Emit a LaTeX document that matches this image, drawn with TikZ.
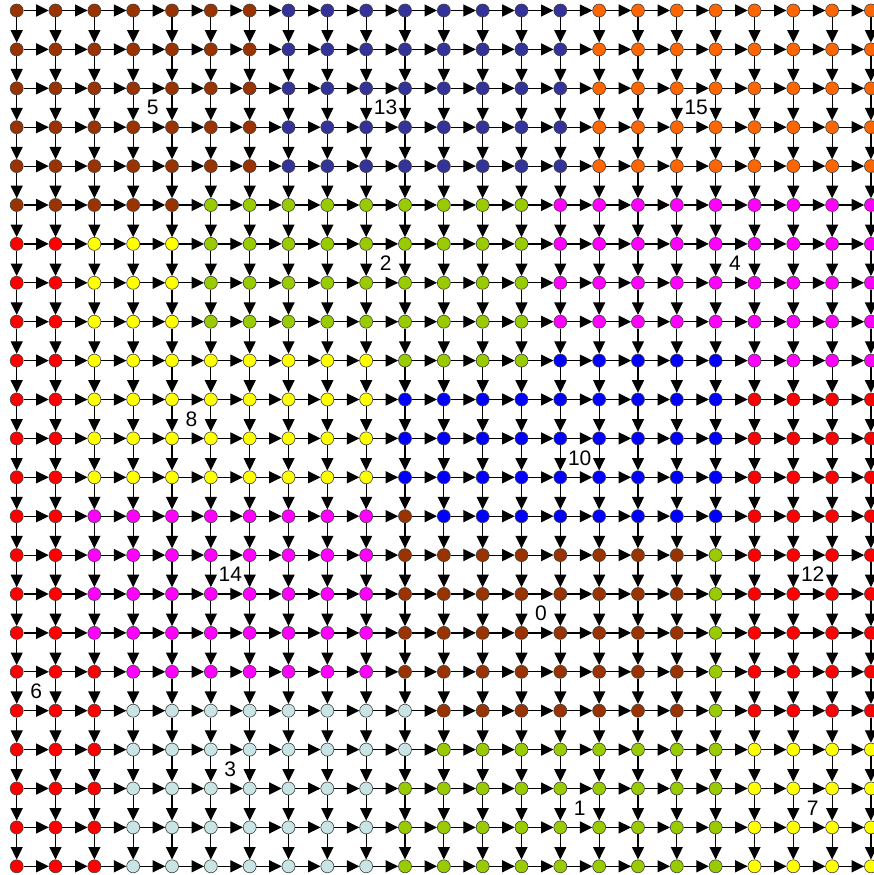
\documentclass[tikz,border=0pt]{standalone}
\usepackage{fontspec}
\setmainfont{Liberation Sans}
\usetikzlibrary{arrows.meta}
\definecolor{cB}{HTML}{993300}
\definecolor{cN}{HTML}{333399}
\definecolor{cO}{HTML}{FF6600}
\definecolor{cG}{HTML}{99CC00}
\definecolor{cM}{HTML}{FF00FF}
\definecolor{cR}{HTML}{FF0000}
\definecolor{cY}{HTML}{FFFF00}
\definecolor{cU}{HTML}{0000FF}
\definecolor{cC}{HTML}{C8E4E4}
\begin{document}
\begin{tikzpicture}[x=1pt,y=-1pt,
  dot/.style={circle,draw=black!75,line width=0.6pt,minimum size=13pt,inner sep=0pt},
  edge/.style={line width=1.2pt,-{Triangle[length=12.5pt,width=12pt]}},
  lbl/.style={font=\fontsize{21}{25}\selectfont,inner sep=0pt}]
\clip (0,0) rectangle (874,875);
\foreach \rowlist [count=\ri from 0] in {
{B,B,B,B,B,B,B,N,N,N,N,N,N,N,N,O,O,O,O,O,O,O,O},
{B,B,B,B,B,B,B,N,N,N,N,N,N,N,N,O,O,O,O,O,O,O,O},
{B,B,B,B,B,B,B,N,N,N,N,N,N,N,N,O,O,O,O,O,O,O,O},
{B,B,B,B,B,B,B,N,N,N,N,N,N,N,N,O,O,O,O,O,O,O,O},
{B,B,B,B,B,B,B,N,N,N,N,N,N,N,N,O,O,O,O,O,O,O,O},
{B,B,B,B,B,G,G,G,G,G,G,G,G,G,M,M,M,M,M,M,M,M,M},
{R,R,Y,Y,Y,G,G,G,G,G,G,G,G,G,M,M,M,M,M,M,M,M,M},
{R,R,Y,Y,Y,G,G,G,G,G,G,G,G,G,M,M,M,M,M,M,M,M,M},
{R,R,Y,Y,Y,G,G,G,G,G,G,G,G,G,M,M,M,M,M,M,M,M,M},
{R,R,Y,Y,Y,Y,Y,Y,Y,Y,G,G,G,G,U,U,U,U,U,M,M,M,M},
{R,R,Y,Y,Y,Y,Y,Y,Y,Y,U,U,U,U,U,U,U,U,U,R,R,R,R},
{R,R,Y,Y,Y,Y,Y,Y,Y,Y,U,U,U,U,U,U,U,U,U,R,R,R,R},
{R,R,Y,Y,Y,Y,Y,Y,Y,Y,U,U,U,U,U,U,U,U,U,R,R,R,R},
{R,R,M,M,M,M,M,M,M,M,B,U,U,U,U,U,U,U,U,R,R,R,R},
{R,R,M,M,M,M,M,M,M,M,B,B,B,B,B,B,B,B,G,R,R,R,R},
{R,R,M,M,M,M,M,M,M,M,B,B,B,B,B,B,B,B,G,R,R,R,R},
{R,R,M,M,M,M,M,M,M,M,B,B,B,B,B,B,B,B,G,R,R,R,R},
{R,R,R,M,M,M,M,M,M,M,B,B,B,B,B,B,B,B,G,R,R,R,R},
{R,R,R,C,C,C,C,C,C,C,C,B,B,B,B,B,B,B,G,R,R,R,R},
{R,R,R,C,C,C,C,C,C,C,C,G,G,G,G,G,G,G,G,Y,Y,Y,Y},
{R,R,R,C,C,C,C,C,C,C,G,G,G,G,G,G,G,G,G,Y,Y,Y,Y},
{R,R,R,C,C,C,C,C,C,C,G,G,G,G,G,G,G,G,G,Y,Y,Y,Y},
{R,R,R,C,C,C,C,C,C,C,G,G,G,G,G,G,G,G,G,Y,Y,Y,Y}}{
  \foreach \col [count=\ci from 0] in \rowlist {
    \node[dot,fill=c\col] (n\ci-\ri) at ({16.7+38.83*\ci},{10.5+38.9*\ri}) {};
  }
}
\foreach \ri in {0,...,22}{
  \foreach \ci [evaluate=\ci as \cj using int(\ci+1)] in {0,...,21}{
    \draw[edge] (n\ci-\ri) -- (n\cj-\ri);
  }
}
\foreach \ci in {0,...,22}{
  \foreach \ri [evaluate=\ri as \rj using int(\ri+1)] in {0,...,21}{
    \draw[edge] (n\ci-\ri) -- (n\ci-\rj);
  }
}
\foreach \t/\ci/\ri in {5/3/2,13/9/2,15/17/2,2/9/6,4/18/6,8/4/10,10/14/11,14/5/14,12/20/14,0/13/15,6/0/17,3/5/19,1/14/20,7/20/20}{
  \node[lbl] (lab\t) at ({16.7+38.83*(\ci+0.5)},{10.5+38.9*(\ri+0.5)}) {\t};
}
\end{tikzpicture}
\end{document}
